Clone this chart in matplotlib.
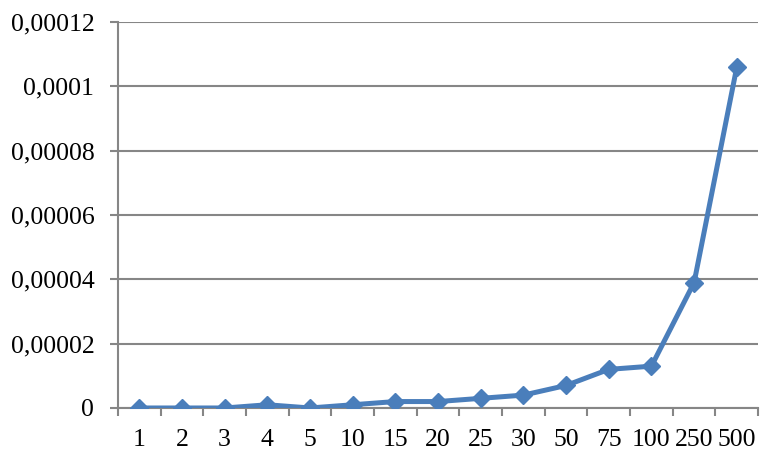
import numpy as np
import matplotlib
matplotlib.use('Agg')
import matplotlib.pyplot as plt
from matplotlib.ticker import FixedLocator

categories = ['1', '2', '3', '4', '5', '10', '15', '20', '25', '30', '50', '75', '100', '250', '500']
values = [0, 0, 0, 1e-6, 0, 1e-6, 2e-6, 2e-6, 3e-6, 4e-6, 7e-6, 1.2e-5, 1.3e-5, 3.9e-5, 1.06e-4]
yticks = [0, 0.00002, 0.00004, 0.00006, 0.00008, 0.0001, 0.00012]
ylabels = ['0', '0,00002', '0,00004', '0,00006', '0,00008', '0,0001', '0,00012']

plt.rcParams['font.family'] = ['Liberation Serif', 'DejaVu Serif']

fig = plt.figure(figsize=(7.76, 4.66), dpi=100)
ax = fig.add_axes([0.152, 0.1245, 0.825, 0.8285])

X = np.arange(len(categories))
ax.plot(X, values, color='#4A7EBB', linewidth=3.6, marker='D', markersize=9.5, zorder=3)

grey = '#868686'
ax.set_xlim(-0.5, len(categories) - 0.5)
ax.set_ylim(0, 0.00012)
ax.set_yticks(yticks)
ax.set_yticklabels(ylabels)
ax.yaxis.grid(True, color=grey, linewidth=1.5)
ax.set_axisbelow(True)

ax.set_xticks(X)
ax.set_xticklabels(categories)
ax.xaxis.set_minor_locator(FixedLocator(np.arange(-0.5, len(categories), 1.0)))
ax.tick_params(axis='x', which='major', length=0, pad=15, labelsize=18.5)
ax.tick_params(axis='x', which='minor', length=6, width=1.5, color=grey)
ax.tick_params(axis='y', length=6, width=1.5, color=grey, pad=11, labelsize=18.5)

for s in ['top', 'right']:
    ax.spines[s].set_visible(False)
for s in ['left', 'bottom']:
    ax.spines[s].set_color(grey)
    ax.spines[s].set_linewidth(1.5)

fig.savefig('out.png', dpi=100)
